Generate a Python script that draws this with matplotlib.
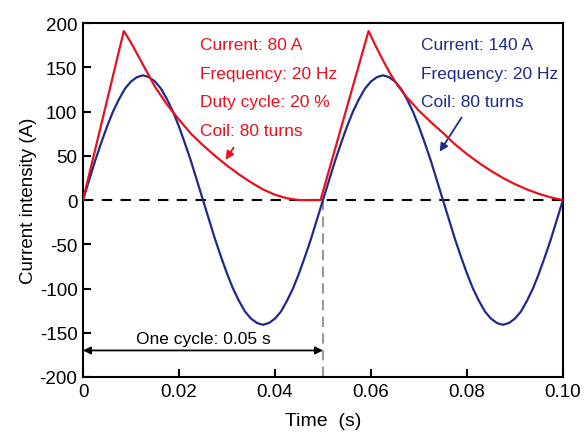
import matplotlib
matplotlib.use("Agg")
import matplotlib.pyplot as plt

plt.rcParams['font.family'] = ['Liberation Sans', 'DejaVu Sans']
plt.rcParams['axes.unicode_minus'] = False

# red: pulsed current
red_t = [0.0, 0.0085, 0.010, 0.0125, 0.015, 0.0175, 0.020, 0.0225, 0.025, 0.0275,
         0.030, 0.0325, 0.035, 0.0375, 0.040, 0.0425, 0.045, 0.0495,
         0.0595, 0.061, 0.0625, 0.064, 0.0655, 0.0675, 0.070, 0.0725, 0.075, 0.0775, 0.080,
         0.0825, 0.085, 0.0875, 0.090, 0.0925, 0.095, 0.0975, 0.100]
red_i = [0, 191, 178, 153, 128, 108, 91, 75, 62, 50,
         39, 29, 20, 12, 6, 2, 0, 0,
         191, 174, 158, 143, 130, 116, 101, 88, 76, 63, 52,
         42, 33, 25, 18, 12, 7, 3, 0]

# blue: alternating current, sampled every 0.00125 s
blue_t = [k * 0.00125 for k in range(81)]
half_wave = [0, 22, 44, 64, 83, 100, 114, 126, 134, 139, 141,
             139, 134, 126, 114, 100, 83, 64, 44, 22]
blue_i = (half_wave + [-v for v in half_wave]) * 2 + [0]

x_ticks = [0, 0.02, 0.04, 0.06, 0.08, 0.10]
x_labels = ["0", "0.02", "0.04", "0.06", "0.08", "0.10"]
y_ticks = [-200, -150, -100, -50, 0, 50, 100, 150, 200]

red_notes = ["Current: 80 A", "Frequency: 20 Hz", "Duty cycle: 20 %", "Coil: 80 turns"]
blue_notes = ["Current: 140 A", "Frequency: 20 Hz", "Coil: 80 turns"]

red_c = "#e8101e"
blue_c = "#1f2a8a"

fig = plt.figure(figsize=(5.87, 4.39), dpi=100)
ax = fig.add_axes([0.1414, 0.139, 0.8176, 0.806])

ax.axhline(0, color="black", lw=1.5, ls=(0, (5, 4)), zorder=1)
ax.plot([0.05, 0.05], [-200, 0], color="#999999", lw=1.5, ls=(0, (5, 3)), zorder=1)
ax.plot(blue_t, blue_i, color=blue_c, lw=1.6, zorder=3)
ax.plot(red_t, red_i, color=red_c, lw=1.6, zorder=4)

for k, s in enumerate(red_notes):
    ax.text(0.0244, 176 - k * 32.5, s, color=red_c, fontsize=12.5, va="center")
for k, s in enumerate(blue_notes):
    ax.text(0.0704, 176 - k * 32.5, s, color=blue_c, fontsize=12.5, va="center")

ax.annotate("", xy=(0.0294, 43), xytext=(0.0317, 62),
            arrowprops=dict(arrowstyle="-|>", color=red_c, lw=1.3, mutation_scale=12))
ax.annotate("", xy=(0.0740, 52), xytext=(0.0792, 96),
            arrowprops=dict(arrowstyle="-|>", color=blue_c, lw=1.3, mutation_scale=12))

ax.annotate("", xy=(0.0, -170), xytext=(0.05, -170),
            arrowprops=dict(arrowstyle="<|-|>", color="black", lw=1.3,
                            mutation_scale=11, shrinkA=0, shrinkB=0))
ax.text(0.025, -157, "One cycle: 0.05 s", fontsize=12.5, ha="center", va="center")

ax.set_xlim(0, 0.10)
ax.set_ylim(-200, 200)
ax.set_xticks(x_ticks)
ax.set_xticklabels(x_labels)
ax.set_yticks(y_ticks)
ax.tick_params(direction="in", length=6, width=1.5, labelsize=13.5, pad=4)
for sp in ax.spines.values():
    sp.set_linewidth(1.5)

ax.set_xlabel("Time  (s)", fontsize=14, labelpad=9)
ax.set_ylabel("Current intensity (A)", fontsize=13.5, labelpad=2)

fig.savefig("out.png", dpi=100)
